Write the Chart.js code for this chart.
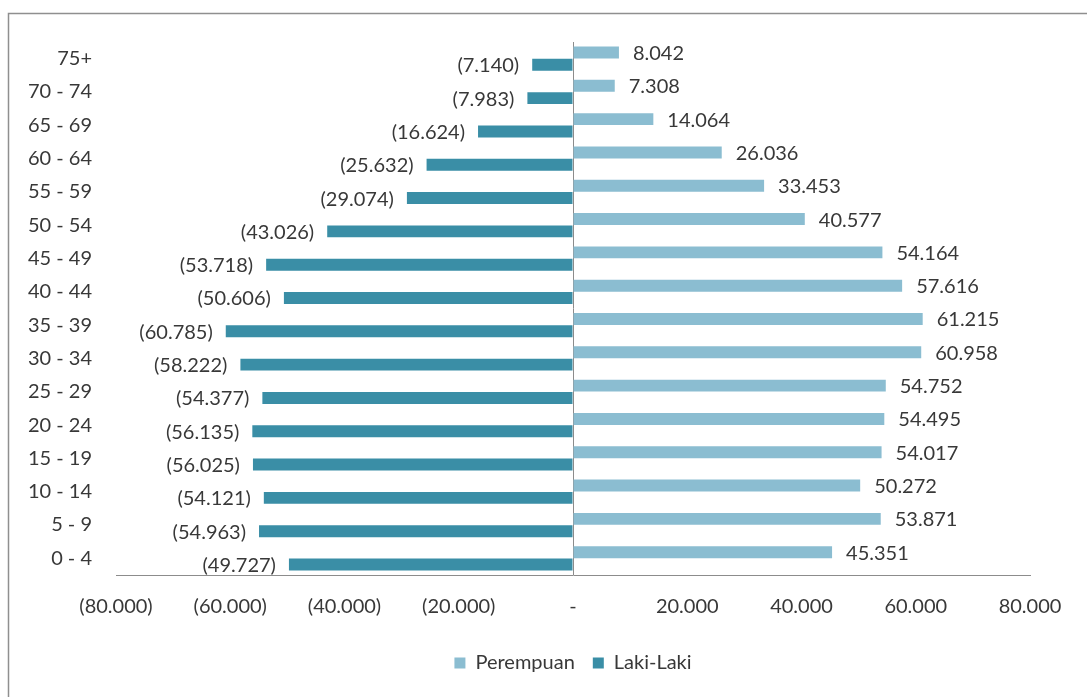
<!DOCTYPE html>
<html>
<head>
<meta charset="utf-8">
<script src="https://cdn.jsdelivr.net/npm/chart.js@4/dist/chart.umd.min.js"></script>
<style>
  html, body { margin: 0; padding: 0; background: #ffffff; }
  #wrap { position: relative; width: 1087px; height: 697px; }
  canvas { display: block; }
</style>
</head>
<body>
<div id="wrap"><canvas id="pyramid" width="1087" height="697"></canvas></div>
<script>
// Age groups, oldest at the top
const ageGroups = ['75+', '70 - 74', '65 - 69', '60 - 64', '55 - 59', '50 - 54', '45 - 49', '40 - 44',
                   '35 - 39', '30 - 34', '25 - 29', '20 - 24', '15 - 19', '10 - 14', '5 - 9', '0 - 4'];

// Female population per age group
const perempuan = [8042, 7308, 14064, 26036, 33453, 40577, 54164, 57616,
                   61215, 60958, 54752, 54495, 54017, 50272, 53871, 45351];

// Male population per age group (plotted to the left of zero)
const lakiLaki = [7140, 7983, 16624, 25632, 29074, 43026, 53718, 50606,
                  60785, 58222, 54377, 56135, 56025, 54121, 54963, 49727];

// Value axis tick positions
const axisTicks = [-80000, -60000, -40000, -20000, 0, 20000, 40000, 60000, 80000];

const FONT = 'Lato, "Open Sans", "Liberation Sans", sans-serif';
const FONT_SIZE = 20;
const TEXT = '#383838';
const COL_P = '#8bbdd1';
const COL_L = '#3a8ea6';

// 12345 -> "12.345"
function thousands(v) {
  return String(Math.abs(v)).replace(/\B(?=(\d{3})+(?!\d))/g, '.');
}
// accounting style: negatives in brackets, zero as a dash
function accounting(v) {
  if (v === 0) return '-';
  return v < 0 ? '(' + thousands(v) + ')' : thousands(v);
}

// outer frame of the chart
const framePlugin = {
  id: 'frame',
  beforeDraw(chart) {
    const c = chart.ctx;
    c.save();
    c.strokeStyle = '#8f8f8f';
    c.lineWidth = 1.5;
    c.beginPath();
    c.moveTo(8.5, chart.height);
    c.lineTo(8.5, 13.5);
    c.lineTo(chart.width, 13.5);
    c.stroke();
    c.restore();
  }
};

// value labels at the end of each bar
const valueLabels = {
  id: 'valueLabels',
  afterDatasetsDraw(chart) {
    const c = chart.ctx;
    c.save();
    c.font = FONT_SIZE + 'px ' + FONT;
    c.fillStyle = TEXT;
    c.textBaseline = 'middle';
    chart.data.datasets.forEach((ds, di) => {
      const meta = chart.getDatasetMeta(di);
      meta.data.forEach((bar, i) => {
        const v = ds.data[i];
        if (v >= 0) {
          c.textAlign = 'left';
          c.fillText(accounting(v), bar.x + 14, bar.y + 1);
        } else {
          c.textAlign = 'right';
          c.fillText(accounting(v), bar.x - 13, bar.y + 1);
        }
      });
    });
    c.restore();
  }
};

new Chart(document.getElementById('pyramid'), {
  type: 'bar',
  data: {
    labels: ageGroups,
    datasets: [
      {
        label: 'Perempuan',
        data: perempuan,
        backgroundColor: COL_P,
        borderWidth: 0,
        categoryPercentage: 0.74,
        barPercentage: 0.97
      },
      {
        label: 'Laki-Laki',
        data: lakiLaki.map(v => -v),
        backgroundColor: COL_L,
        borderWidth: 0,
        categoryPercentage: 0.74,
        barPercentage: 0.97
      }
    ]
  },
  options: {
    indexAxis: 'y',
    responsive: false,
    animation: false,
    events: [],
    layout: { padding: { left: 10, right: 57, top: 42, bottom: 14 } },
    scales: {
      x: {
        min: axisTicks[0],
        max: axisTicks[axisTicks.length - 1],
        afterBuildTicks(scale) { scale.ticks = axisTicks.map(v => ({ value: v })); },
        afterFit(scale) { scale.height = 60; },
        ticks: {
          padding: 20,
          color: TEXT,
          font: { family: FONT, size: FONT_SIZE },
          maxRotation: 0,
          callback: v => accounting(v)
        },
        grid: {
          drawTicks: false,
          color: ctx => (ctx.tick && ctx.tick.value === 0) ? '#8c8c8c' : 'rgba(0,0,0,0)',
          lineWidth: 1
        },
        border: { display: true, color: '#8c8c8c', width: 1 }
      },
      y: {
        afterFit(scale) { scale.width = 106; },
        ticks: {
          padding: 24,
          color: TEXT,
          font: { family: FONT, size: FONT_SIZE }
        },
        grid: { display: false, drawTicks: false },
        border: { display: false }
      }
    },
    plugins: {
      legend: {
        position: 'bottom',
        fullSize: false,
        labels: {
          boxWidth: 11,
          boxHeight: 11,
          padding: 18,
          color: TEXT,
          font: { family: FONT, size: FONT_SIZE }
        }
      },
      tooltip: { enabled: false }
    }
  },
  plugins: [framePlugin, valueLabels]
});
</script>
</body>
</html>
